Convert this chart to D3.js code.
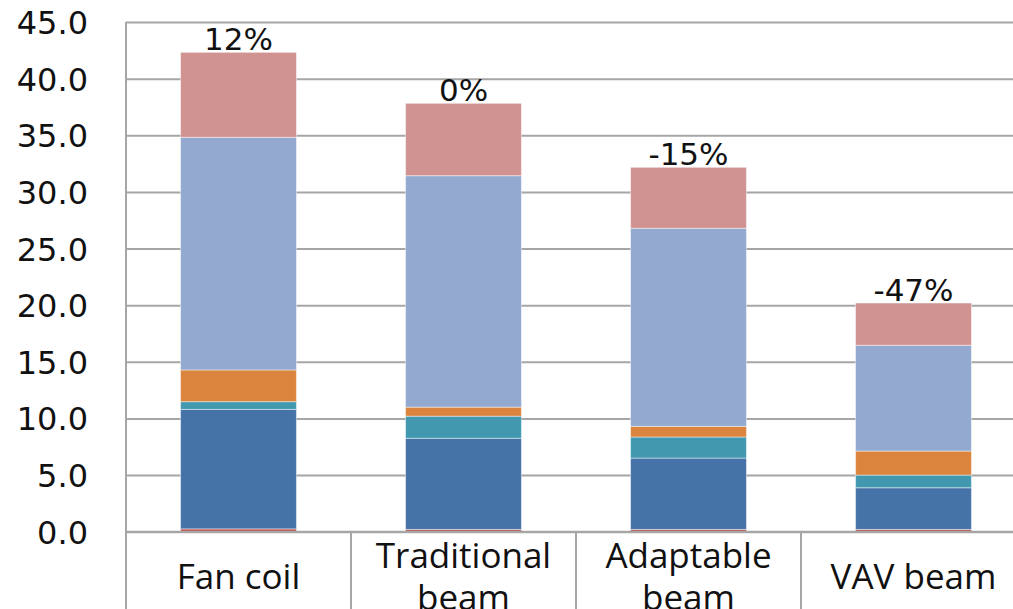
<!DOCTYPE html>
<html>
<head>
<meta charset="utf-8">
<script src="https://cdn.jsdelivr.net/npm/d3@7"></script>
<style>
  html, body { margin: 0; padding: 0; background: #fff; }
  svg { display: block; }
</style>
</head>
<body>
<svg id="chart" width="1013" height="609"></svg>
<script>
// Systems compared
const categories = ["Fan coil", "Traditional beam", "Adaptable beam", "VAV beam"];

// Stacked components, bottom to top
const seriesNames = ["s1", "s2", "s3", "s4", "s5", "s6"];
const s1 = [0.25, 0.20, 0.20, 0.20];
const s2 = [10.55, 8.05, 6.30, 3.68];
const s3 = [0.68, 1.95, 1.86, 1.12];
const s4 = [2.80, 0.80, 0.94, 2.12];
const s5 = [20.54, 20.43, 17.49, 9.34];
const s6 = [7.50, 6.39, 5.38, 3.73];
const seriesColors = ["#C0504D", "#4572A7", "#4198AF", "#DB843D", "#93A9CF", "#D09392"];

// Percent change labels are taken relative to this system
const baseline = "Traditional beam";

const yTicks = [0, 5, 10, 15, 20, 25, 30, 35, 40, 45];

const seriesValues = [s1, s2, s3, s4, s5, s6];
const rows = categories.map((c, i) => {
  const r = { category: c };
  seriesNames.forEach((s, k) => { r[s] = seriesValues[k][i]; });
  return r;
});

const svg = d3.select("#chart");
const plotLeft = 126, plotRight = 1026, plotTop = 22, plotBottom = 531.7;

const x = d3.scaleBand().domain(categories).range([plotLeft, plotRight])
  .paddingInner(0.485).paddingOuter(0.2425);
const xCat = d3.scaleBand().domain(categories).range([plotLeft, plotRight]);
const y = d3.scaleLinear().domain([0, 45]).range([plotBottom, plotTop]);

const gray = "#A6A6A6";

// Value axis with horizontal gridlines
const yAxis = svg.append("g")
  .attr("transform", `translate(${plotLeft},0)`)
  .call(d3.axisLeft(y).tickValues(yTicks).tickFormat(d3.format(".1f"))
    .tickSizeInner(-(plotRight - plotLeft)).tickSizeOuter(0).tickPadding(38));
yAxis.select(".domain").remove();
yAxis.selectAll(".tick line").attr("stroke", gray).attr("stroke-width", 2);
yAxis.selectAll(".tick text")
  .attr("font-family", "DejaVu Sans, Verdana, sans-serif")
  .attr("font-size", 32).attr("fill", "#111").attr("dy", "0.36em");

// Stacked bars
const stack = d3.stack().keys(seriesNames);
const layers = stack(rows);
svg.append("g").selectAll("g")
  .data(layers).join("g")
  .attr("fill", (d, i) => seriesColors[i])
  .selectAll("rect")
  .data(d => d).join("rect")
  .attr("x", d => x(d.data.category))
  .attr("width", x.bandwidth())
  .attr("y", d => y(d[1]))
  .attr("height", d => y(d[0]) - y(d[1]))
  .attr("stroke", "rgba(255,255,255,0.45)")
  .attr("stroke-width", 1);

// Axis lines and category separators
const axes = svg.append("g").attr("stroke", gray).attr("stroke-width", 2);
axes.append("line").attr("x1", plotLeft).attr("x2", plotLeft).attr("y1", plotTop).attr("y2", 609);
axes.append("line").attr("x1", plotLeft).attr("x2", plotRight).attr("y1", y(0)).attr("y2", y(0));
axes.selectAll("line.sep").data(categories.slice(1)).join("line")
  .attr("class", "sep")
  .attr("x1", d => xCat(d)).attr("x2", d => xCat(d))
  .attr("y1", y(0)).attr("y2", 609);

// Category labels, wrapped to fit the band
const catLabels = svg.append("g").selectAll("text")
  .data(categories).join("text")
  .attr("x", d => xCat(d) + xCat.bandwidth() / 2)
  .attr("text-anchor", "middle")
  .attr("font-family", "Open Sans, sans-serif")
  .attr("font-size", 35)
  .attr("fill", "#111");
catLabels.each(function (d) {
  const t = d3.select(this);
  const words = d.split(" ");
  let lines = [words.join(" ")];
  t.text(lines[0]);
  if (this.getComputedTextLength() > 215) {
    lines = [words.slice(0, -1).join(" "), words[words.length - 1]];
  }
  t.text(null);
  const lh = 42;
  const y0 = 577 - (lines.length - 1) * lh / 2;
  lines.forEach((l, i) => {
    t.append("tspan").attr("x", xCat(d) + xCat.bandwidth() / 2)
      .attr("y", y0 + i * lh).attr("dy", "0.35em").text(l);
  });
});

// Percent change labels above each bar
const totals = rows.map(r => d3.sum(seriesNames, s => r[s]));
const baseTotal = totals[categories.indexOf(baseline)];
svg.append("g").selectAll("text")
  .data(rows).join("text")
  .attr("x", d => x(d.category) + x.bandwidth() / 2)
  .attr("y", (d, i) => y(totals[i]) - 2)
  .attr("text-anchor", "middle")
  .attr("font-family", "DejaVu Sans, Verdana, sans-serif")
  .attr("font-size", 31)
  .attr("fill", "#111")
  .text((d, i) => Math.round((totals[i] / baseTotal - 1) * 100) + "%");
</script>
</body>
</html>
